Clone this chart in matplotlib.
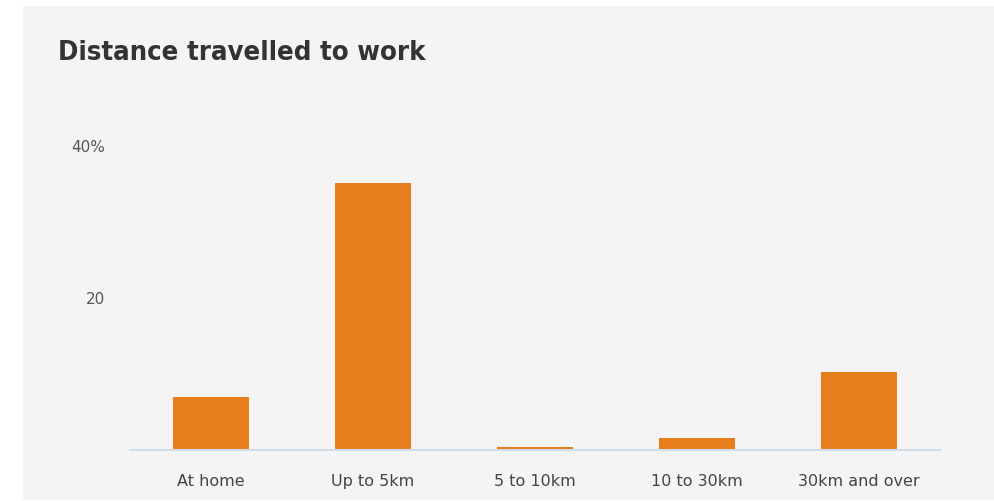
import matplotlib
matplotlib.use("Agg")
import matplotlib.pyplot as plt
from matplotlib.patches import Rectangle

categories = ["At home", "Up to 5km", "5 to 10km", "10 to 30km", "30km and over"]
values = [7.0, 35.1, 0.4, 1.6, 10.3]
yticks = [20, 40]
ytick_labels = ["20", "40%"]

W, H = 995, 501
fig = plt.figure(figsize=(W / 100, H / 100), dpi=100)
fig.patch.set_facecolor("white")

# gray panel
fig.add_artist(Rectangle((23 / W, 1 - 500 / H), (995 - 23) / W, (500 - 6) / H,
                         transform=fig.transFigure, facecolor="#f4f4f4",
                         edgecolor="none", zorder=0))

fig.text(58 / W, 1 - 53 / H, "Distance travelled to work", fontsize=19.7,
         fontweight="bold", family="DejaVu Sans", fontstretch="condensed",
         color="#333333", ha="left", va="center")

ymax = 42
left, right = 130, 940
bottom = 450
top = bottom - 7.6 * ymax
ax = fig.add_axes([left / W, 1 - bottom / H, (right - left) / W, (bottom - top) / H])
ax.set_facecolor("none")
x = list(range(len(categories)))
ax.bar(x, values, width=0.47, color="#e57e1b", zorder=2)
ax.set_xlim(-0.5, len(categories) - 0.5)
ax.set_ylim(0, ymax)
for s in ["top", "right", "left"]:
    ax.spines[s].set_visible(False)
ax.spines["bottom"].set_color("#d3dde9")
ax.spines["bottom"].set_linewidth(1.5)
ax.set_xticks(x)
ax.set_xticklabels(categories, fontsize=11.5, color="#444444")
ax.set_yticks(yticks)
ax.set_yticklabels(ytick_labels, fontsize=11, color="#555555")
ax.tick_params(axis="x", length=0, pad=17)
ax.tick_params(axis="y", length=0, pad=18)

fig.savefig("out.png", dpi=100)
